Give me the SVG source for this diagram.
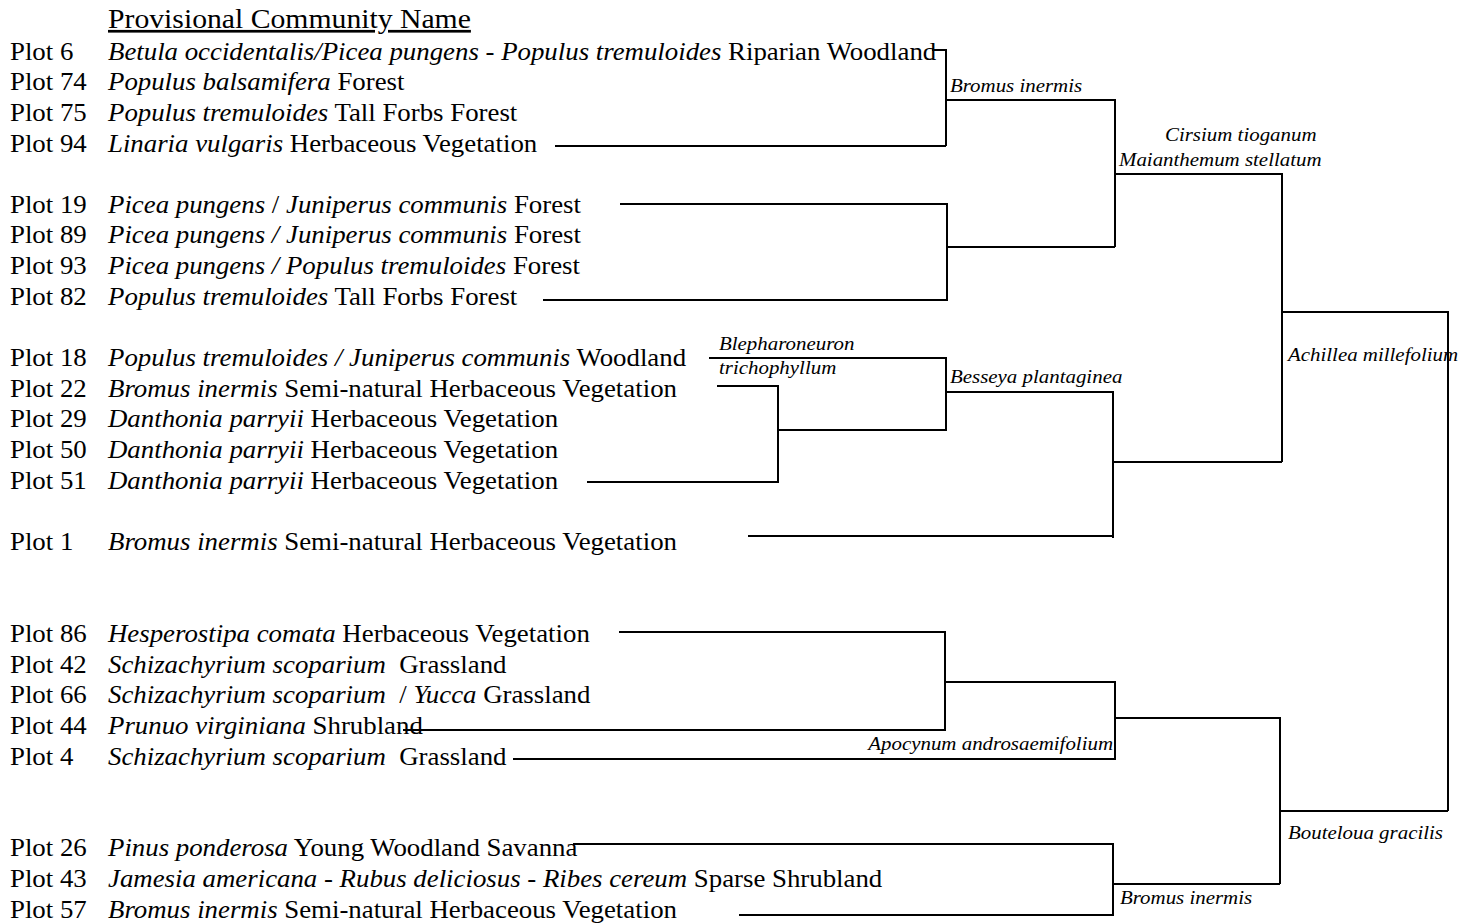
<svg xmlns="http://www.w3.org/2000/svg" width="1464" height="924" viewBox="0 0 1464 924">
<style>
text{font-family:"Liberation Serif","Times New Roman",serif;fill:#000;white-space:pre}
.row{font-size:24.4px}
.lab{font-size:19px;font-style:italic}
.i{font-style:italic}
.title{font-size:27px;text-decoration:underline}
.conn path{fill:none;stroke:#000;stroke-width:2;stroke-linejoin:miter}
</style>
<rect width="1464" height="924" fill="#fff"/>
<g id="title"><text class="title" transform="matrix(1.1 0 0 1 108 28)">Provisional Community Name</text></g>

<g id="plot6"><text class="row" transform="matrix(1.1 0 0 1 10 59.5)">Plot 6</text><text class="row" transform="matrix(1.1 0 0 1 108 59.5)"><tspan class="i">Betula occidentalis/Picea pungens - Populus tremuloides</tspan> Riparian Woodland</text></g>
<g id="plot74"><text class="row" transform="matrix(1.1 0 0 1 10 90.2)">Plot 74</text><text class="row" transform="matrix(1.1 0 0 1 108 90.2)"><tspan class="i">Populus balsamifera</tspan> Forest</text></g>
<g id="plot75"><text class="row" transform="matrix(1.1 0 0 1 10 120.8)">Plot 75</text><text class="row" transform="matrix(1.1 0 0 1 108 120.8)"><tspan class="i">Populus tremuloides</tspan> Tall Forbs Forest</text></g>
<g id="plot94"><text class="row" transform="matrix(1.1 0 0 1 10 151.5)">Plot 94</text><text class="row" transform="matrix(1.1 0 0 1 108 151.5)"><tspan class="i">Linaria vulgaris</tspan> Herbaceous Vegetation</text></g>

<g id="plot19"><text class="row" transform="matrix(1.1 0 0 1 10 212.8)">Plot 19</text><text class="row" transform="matrix(1.1 0 0 1 108 212.8)"><tspan class="i">Picea pungens</tspan> / <tspan class="i">Juniperus communis</tspan> Forest</text></g>
<g id="plot89"><text class="row" transform="matrix(1.1 0 0 1 10 243.4)">Plot 89</text><text class="row" transform="matrix(1.1 0 0 1 108 243.4)"><tspan class="i">Picea pungens / Juniperus communis</tspan> Forest</text></g>
<g id="plot93"><text class="row" transform="matrix(1.1 0 0 1 10 274.1)">Plot 93</text><text class="row" transform="matrix(1.1 0 0 1 108 274.1)"><tspan class="i">Picea pungens / Populus tremuloides</tspan> Forest</text></g>
<g id="plot82"><text class="row" transform="matrix(1.1 0 0 1 10 304.7)">Plot 82</text><text class="row" transform="matrix(1.1 0 0 1 108 304.7)"><tspan class="i">Populus tremuloides</tspan> Tall Forbs Forest</text></g>

<g id="plot18"><text class="row" transform="matrix(1.1 0 0 1 10 366)">Plot 18</text><text class="row" transform="matrix(1.1 0 0 1 108 366)"><tspan class="i">Populus tremuloides / Juniperus communis</tspan> Woodland</text></g>
<g id="plot22"><text class="row" transform="matrix(1.1 0 0 1 10 396.7)">Plot 22</text><text class="row" transform="matrix(1.1 0 0 1 108 396.7)"><tspan class="i">Bromus inermis</tspan> Semi-natural Herbaceous Vegetation</text></g>
<g id="plot29"><text class="row" transform="matrix(1.1 0 0 1 10 427.3)">Plot 29</text><text class="row" transform="matrix(1.1 0 0 1 108 427.3)"><tspan class="i">Danthonia parryii</tspan> Herbaceous Vegetation</text></g>
<g id="plot50"><text class="row" transform="matrix(1.1 0 0 1 10 458)">Plot 50</text><text class="row" transform="matrix(1.1 0 0 1 108 458)"><tspan class="i">Danthonia parryii</tspan> Herbaceous Vegetation</text></g>
<g id="plot51"><text class="row" transform="matrix(1.1 0 0 1 10 488.6)">Plot 51</text><text class="row" transform="matrix(1.1 0 0 1 108 488.6)"><tspan class="i">Danthonia parryii</tspan> Herbaceous Vegetation</text></g>

<g id="plot1"><text class="row" transform="matrix(1.1 0 0 1 10 549.9)">Plot 1</text><text class="row" transform="matrix(1.1 0 0 1 108 549.9)"><tspan class="i">Bromus inermis</tspan> Semi-natural Herbaceous Vegetation</text></g>

<g id="plot86"><text class="row" transform="matrix(1.1 0 0 1 10 641.9)">Plot 86</text><text class="row" transform="matrix(1.1 0 0 1 108 641.9)"><tspan class="i">Hesperostipa comata</tspan> Herbaceous Vegetation</text></g>
<g id="plot42"><text class="row" transform="matrix(1.1 0 0 1 10 672.5)">Plot 42</text><text class="row" transform="matrix(1.1 0 0 1 108 672.5)"><tspan class="i">Schizachyrium scoparium</tspan>  Grassland</text></g>
<g id="plot66"><text class="row" transform="matrix(1.1 0 0 1 10 703.2)">Plot 66</text><text class="row" transform="matrix(1.1 0 0 1 108 703.2)"><tspan class="i">Schizachyrium scoparium</tspan>  / <tspan class="i">Yucca</tspan> Grassland</text></g>
<g id="plot44"><text class="row" transform="matrix(1.1 0 0 1 10 733.8)">Plot 44</text><text class="row" transform="matrix(1.1 0 0 1 108 733.8)"><tspan class="i">Prunuo virginiana</tspan> Shrubland</text></g>
<g id="plot4"><text class="row" transform="matrix(1.1 0 0 1 10 764.5)">Plot 4</text><text class="row" transform="matrix(1.1 0 0 1 108 764.5)"><tspan class="i">Schizachyrium scoparium</tspan>  Grassland</text></g>

<g id="plot26"><text class="row" transform="matrix(1.1 0 0 1 10 856.4)">Plot 26</text><text class="row" transform="matrix(1.1 0 0 1 108 856.4)"><tspan class="i">Pinus ponderosa</tspan> Young Woodland Savanna</text></g>
<g id="plot43"><text class="row" transform="matrix(1.1 0 0 1 10 887.1)">Plot 43</text><text class="row" transform="matrix(1.1 0 0 1 108 887.1)"><tspan class="i">Jamesia americana - Rubus deliciosus - Ribes cereum</tspan> Sparse Shrubland</text></g>
<g id="plot57"><text class="row" transform="matrix(1.1 0 0 1 10 917.7)">Plot 57</text><text class="row" transform="matrix(1.1 0 0 1 108 917.7)"><tspan class="i">Bromus inermis</tspan> Semi-natural Herbaceous Vegetation</text></g>

<g id="node-bromus1"><text class="lab" transform="matrix(1.1 0 0 1 950 92)">Bromus inermis</text></g>
<g id="node-cirsium"><text class="lab" transform="matrix(1.1 0 0 1 1165 141)">Cirsium tioganum</text><text class="lab" transform="matrix(1.1 0 0 1 1119 166)">Maianthemum stellatum</text></g>
<g id="node-achillea"><text class="lab" transform="matrix(1.1 0 0 1 1288 361)">Achillea millefolium</text></g>
<g id="node-blepharoneuron"><text class="lab" transform="matrix(1.1 0 0 1 719 350)">Blepharoneuron</text><text class="lab" transform="matrix(1.1 0 0 1 719 374)">trichophyllum</text></g>
<g id="node-besseya"><text class="lab" transform="matrix(1.1 0 0 1 950 383)">Besseya plantaginea</text></g>
<g id="node-apocynum"><text class="lab" text-anchor="end" transform="matrix(1.1 0 0 1 1113 750)">Apocynum androsaemifolium</text></g>
<g id="node-bouteloua"><text class="lab" transform="matrix(1.1 0 0 1 1288 839)">Bouteloua gracilis</text></g>
<g id="node-bromus2"><text class="lab" transform="matrix(1.1 0 0 1 1120 904)">Bromus inermis</text></g>

<g id="connectors" class="conn">
<path d="M932,50 H946 V146 M555,146 H946"/>
<path d="M946,100 H1115 V247"/>
<path d="M620,204 H947 V300 H543"/>
<path d="M947,247 H1115"/>
<path d="M1115,174 H1282 V462"/>
<path d="M1282,312 H1448 V811"/>
<path d="M709,358 H946 V430 H778"/>
<path d="M717,386 H778 V482 H587"/>
<path d="M946,392 H1113 V538"/>
<path d="M748,536 H1113"/>
<path d="M1113,462 H1282"/>
<path d="M619,632 H945 V730 H403"/>
<path d="M945,682 H1115 V759 H513"/>
<path d="M1115,718 H1280 V884"/>
<path d="M1280,811 H1448"/>
<path d="M573,844 H1113 V915 H739"/>
<path d="M1113,884 H1280"/>
</g>
</svg>
